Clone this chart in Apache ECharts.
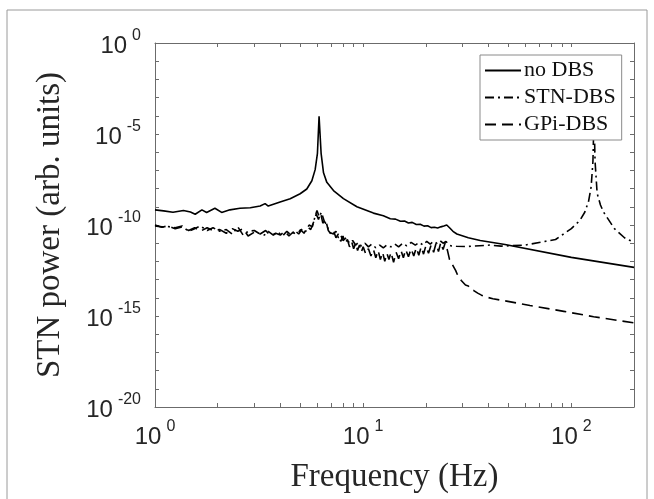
<!DOCTYPE html>
<html>
<head>
<meta charset="utf-8">
<script src="https://cdn.jsdelivr.net/npm/echarts@6/dist/echarts.min.js"></script>
<style>html,body{margin:0;padding:0;background:#fff;}#c{width:654px;height:499px;}</style>
</head>
<body>
<div id="c"></div>
<script>
// ---- data ----
const freqNoDBS = [1.0,1.1,1.22,1.37,1.48,1.56,1.68,1.77,1.94,2.09,2.29,2.56,2.87,3.2,3.38,3.5,3.99,4.46,4.98,5.36,5.67,5.88,6.03,6.14,6.28,6.45,6.69,7.2,8.04,9.33,11.2,12.5,13.5,14.3,15.1,15.8,16.5,17.2,18.0,18.8,19.6,20.4,21.2,22.0,22.8,23.6,24.4,25.2,26.0,27.0,28.2,32,36.5,48,100,200];
const powNoDBS  = [6.8e-10,6.0e-10,5.0e-10,6.2e-10,5.2e-10,3.9e-10,6.8e-10,4.9e-10,8.3e-10,4.9e-10,6.8e-10,8.3e-10,8.9e-10,1.1e-9,1.5e-9,1.1e-9,1.86e-9,2.8e-9,5.2e-9,9.5e-9,2.7e-8,1.1e-7,8.7e-7,9.5e-5,8.7e-7,7.4e-8,2.2e-8,7.8e-9,2.8e-9,1.0e-9,4.5e-10,3.2e-10,2.2e-10,2.1e-10,1.6e-10,1.66e-10,1.3e-10,1.4e-10,1.07e-10,1.1e-10,8.7e-11,9.1e-11,7.2e-11,7.6e-11,6.9e-11,7.9e-11,8.9e-11,1.0e-10,7.1e-11,4.5e-11,3.2e-11,2.0e-11,1.4e-11,8.5e-12,1.66e-12,4.7e-13];

const freqSTN = [1.0,1.08,1.15,1.25,1.35,1.45,1.55,1.65,1.78,1.9,2.05,2.2,2.35,2.5,2.65,2.8,3.0,3.15,3.35,3.5,3.7,3.9,4.1,4.3,4.5,4.7,4.9,5.1,5.3,5.5,5.7,5.85,6.0,6.15,6.3,6.5,6.7,6.85,7.0,7.2,7.4,7.6,7.8,8.0,8.3,8.6,8.9,9.2,9.5,9.8,10.2,10.6,11.0,11.5,12.0,12.5,13.0,13.6,14.2,14.8,15.5,16.2,17.0,17.8,18.6,19.4,20.2,21.0,21.8,22.6,23.4,24.2,25.0,25.8,26.6,28,31.5,40.7,46,60,84,100,110,116,121,124.5,127,128.5,130,133,138,143,161,180,200];
const powSTN  = [8.9e-11,7.9e-11,8.3e-11,7.1e-11,8.9e-11,4.5e-11,6.3e-11,8.9e-11,5.0e-11,7.1e-11,4.5e-11,5.6e-11,3.2e-11,7.9e-11,2.8e-11,4.5e-11,5.0e-11,3.5e-11,2.8e-11,4.5e-11,2.8e-11,4.0e-11,2.5e-11,4.5e-11,2.8e-11,5.0e-11,3.2e-11,6.3e-11,4.5e-11,1.0e-10,7.9e-11,2.5e-10,6.3e-10,2.8e-10,5.0e-10,1.6e-10,1.0e-10,4.0e-11,5.0e-11,3.2e-11,4.5e-11,2.0e-11,2.8e-11,1.4e-11,2.0e-11,1.0e-11,1.4e-11,7.9e-12,1.1e-11,7.1e-12,1.0e-11,6.3e-12,8.9e-12,5.6e-12,7.9e-12,5.6e-12,7.9e-12,6.3e-12,8.9e-12,6.3e-12,1.0e-11,7.1e-12,1.1e-11,7.9e-12,1.1e-11,7.9e-12,1.26e-11,8.9e-12,1.26e-11,1.0e-11,1.4e-11,1.0e-11,1.26e-11,7.9e-12,7.1e-12,6.8e-12,6.6e-12,7.9e-12,6.9e-12,7.9e-12,1.6e-11,6.3e-11,1.8e-10,5.0e-10,2.0e-9,1.26e-8,3.2e-7,1.0e-4,3.2e-7,5.6e-9,1.26e-9,5.0e-10,6.3e-11,2.0e-11,1.1e-11];

const freqGPi = [1.0,1.08,1.15,1.25,1.35,1.45,1.55,1.65,1.78,1.9,2.05,2.2,2.35,2.5,2.65,2.8,3.0,3.2,3.4,3.6,3.8,4.0,4.2,4.4,4.6,4.8,5.0,5.2,5.4,5.6,5.8,5.95,6.1,6.25,6.4,6.6,6.8,7.0,7.2,7.4,7.6,7.8,8.0,8.2,8.4,8.6,8.8,9.0,9.2,9.4,9.6,9.8,10.0,10.3,10.6,10.9,11.2,11.5,11.8,12.1,12.4,12.7,13.0,13.3,13.6,14.0,14.4,14.8,15.2,15.6,16.0,16.5,17.0,17.5,18.0,18.5,19.0,19.5,20.0,20.6,21.2,21.8,22.4,23.0,23.6,24.2,24.8,25.4,26.0,26.6,27.2,27.8,28.4,29.0,29.6,30.2,31,32,33,34,35.5,37,39,42,47,63.3,92,128,200];
const powGPi  = [1.0e-10,7.6e-11,8.9e-11,6.3e-11,7.9e-11,5.0e-11,7.1e-11,4.5e-11,7.1e-11,5.0e-11,5.6e-11,3.5e-11,6.3e-11,4.5e-11,6.3e-11,2.5e-11,4.0e-11,3.2e-11,5.0e-11,2.5e-11,3.5e-11,2.8e-11,4.5e-11,2.5e-11,4.0e-11,2.8e-11,5.6e-11,3.5e-11,7.9e-11,5.6e-11,1.6e-10,4.0e-10,2.0e-10,4.5e-10,1.26e-10,2.0e-10,5.0e-11,3.2e-11,5.0e-11,2.0e-11,3.2e-11,1.26e-11,2.5e-11,1.0e-11,1.6e-11,6.3e-12,1.26e-11,5.0e-12,1.0e-11,4.0e-12,7.9e-12,3.2e-12,6.3e-12,2.5e-12,5.0e-12,2.0e-12,4.5e-12,1.6e-12,4.0e-12,1.26e-12,3.2e-12,1.0e-12,2.8e-12,1.26e-12,3.2e-12,8.9e-13,3.2e-12,1.4e-12,4.0e-12,1.6e-12,4.5e-12,1.8e-12,5.0e-12,2.0e-12,5.6e-12,2.2e-12,6.3e-12,2.5e-12,7.1e-12,2.8e-12,7.9e-12,3.2e-12,1.0e-11,3.5e-12,1.1e-11,4.5e-12,1.1e-11,4.0e-12,1.26e-12,7.9e-13,5.0e-13,3.2e-13,1.8e-13,1.6e-13,8.9e-14,7.9e-14,5.0e-14,4.5e-14,2.8e-14,2.5e-14,1.8e-14,1.4e-14,1.1e-14,8.9e-15,7.1e-15,3.8e-15,1.8e-15,9.1e-16,4.2e-16];

const seriesNames = ['no DBS', 'STN-DBS', 'GPi-DBS'];
const xLabelValues = [1, 10, 100];
const xTickValues = [1,2,3,4,5,6,7,8,9,10,20,30,40,50,60,70,80,90,100,200];
const yLabelValues = [1e-20, 1e-15, 1e-10, 1e-5, 1];
const yTickValues = [1e-20,1e-19,1e-18,1e-17,1e-16,1e-15,1e-14,1e-13,1e-12,1e-11,1e-10,1e-9,1e-8,1e-7,1e-6,1e-5,1e-4,1e-3,1e-2,1e-1,1];
const xTitle = 'Frequency (Hz)';
const yTitle = 'STN power (arb. units)';

// ---- chart ----
const pairs = (xs, ys) => xs.map((x, i) => [x, ys[i]]);
const expLabel = v => '{b|10}{s|' + Math.round(Math.log10(v)) + '}';
const axisCol = '#6b6b6b';
const labelRich = {
  b: {fontFamily: 'Liberation Sans', fontSize: 24, color: '#262626', lineHeight: 30, verticalAlign: 'bottom'},
  s: {fontFamily: 'Liberation Sans', fontSize: 16, color: '#262626', lineHeight: 30, verticalAlign: 'top', padding: [0, 0, 0, 5]}
};
const titleStyle = {fontFamily: 'Liberation Serif', fontSize: 33, color: '#262626'};
function xAx(pos, main) {
  return {
    type: 'log', logBase: 10, min: 1, max: 200, position: pos,
    axisLine: {show: true, lineStyle: {color: axisCol, width: 1}},
    axisTick: {show: true, inside: true, length: 4, lineStyle: {color: axisCol}, customValues: xTickValues},
    axisLabel: main ? {show: true, margin: 12, customValues: xLabelValues, formatter: expLabel, rich: labelRich} : {show: false},
    splitLine: {show: false}, minorTick: {show: false},
    name: main ? xTitle : '', nameLocation: 'middle', nameGap: 54,
    nameTextStyle: titleStyle
  };
}
function yAx(pos, main) {
  return {
    type: 'log', logBase: 10, min: 1e-20, max: 1, position: pos,
    axisLine: {show: true, lineStyle: {color: axisCol, width: 1}},
    axisTick: {show: true, inside: true, length: 4, lineStyle: {color: axisCol}, customValues: yTickValues},
    axisLabel: main ? {show: true, margin: 14, customValues: yLabelValues, formatter: expLabel, rich: labelRich} : {show: false},
    splitLine: {show: false}, minorTick: {show: false},
    name: main ? yTitle : '', nameLocation: 'middle', nameGap: 88, nameRotate: 90,
    nameTextStyle: titleStyle
  };
}
const lineBase = {type: 'line', symbol: 'none', smooth: false, silent: true, xAxisIndex: 0, yAxisIndex: 0};
const chart = echarts.init(document.getElementById('c'), null, {renderer: 'canvas'});
chart.setOption({
  animation: false,
  backgroundColor: '#fff',
  grid: {left: 155, right: 20, top: 43, bottom: 81, containLabel: false},
  xAxis: [xAx('bottom', true), xAx('top', false)],
  yAxis: [yAx('left', true), yAx('right', false)],
  legend: {
    orient: 'vertical', left: 480, top: 55,
    data: seriesNames,
    itemWidth: 36, itemHeight: 14, itemGap: 2,
    padding: [3, 6, 3, 4],
    backgroundColor: '#fff', borderColor: '#8a8a8a', borderWidth: 1,
    itemStyle: {color: 'rgba(0,0,0,0)', borderColor: 'rgba(0,0,0,0)', borderWidth: 0, opacity: 0},
    textStyle: {fontFamily: 'Liberation Serif', fontSize: 22, color: '#111', lineHeight: 25, padding: [0,0,0,-2]},
    z: 10
  },
  graphic: [{type: 'rect', shape: {x: 7, y: 10, width: 640, height: 500}, style: {fill: 'none', stroke: '#9a9a9a', lineWidth: 1}, silent: true}],
  series: [
    Object.assign({}, lineBase, {name: seriesNames[0], data: pairs(freqNoDBS, powNoDBS), lineStyle: {color: '#000', width: 1.6, type: 'solid'}, itemStyle: {color: '#000'}, z: 3}),
    Object.assign({}, lineBase, {name: seriesNames[1], data: pairs(freqSTN, powSTN), lineStyle: {color: '#000', width: 1.6, type: [9, 4, 2, 4]}, itemStyle: {color: '#000'}, z: 2}),
    Object.assign({}, lineBase, {name: seriesNames[2], data: pairs(freqGPi, powGPi), lineStyle: {color: '#000', width: 1.6, type: [11, 6]}, itemStyle: {color: '#000'}, z: 2})
  ]
});
</script>
</body>
</html>
